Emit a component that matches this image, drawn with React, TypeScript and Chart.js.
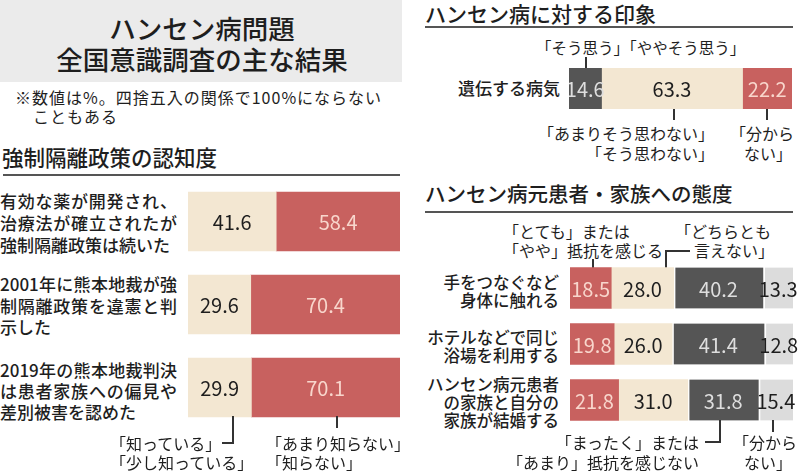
import React, { useEffect, useRef } from "react";
import Chart from "chart.js/auto";

// ---------- data ----------
const awarenessRows: string[][] = [
  ["有効な薬が開発され、", "治療法が確立されたが", "強制隔離政策は続いた"],
  ["2001年に熊本地裁が強", "制隔離政策を違憲と判", "示した"],
  ["2019年の熊本地裁判決", "は患者家族への偏見や", "差別被害を認めた"],
];
const awarenessKnown = [41.6, 29.6, 29.9];
const awarenessUnknown = [58.4, 70.4, 70.1];

const impressionRows = ["遺伝する病気"];
const impressionYes = [14.6];
const impressionNo = [63.3];
const impressionDontKnow = [22.2];

const attitudeRows: string[][] = [
  ["手をつなぐなど", "身体に触れる"],
  ["ホテルなどで同じ", "浴場を利用する"],
  ["ハンセン病元患者", "の家族と自分の", "家族が結婚する"],
];
const attitudeResist = [18.5, 19.8, 21.8];
const attitudeNeutral = [28.0, 26.0, 31.0];
const attitudeNoResist = [40.2, 41.4, 31.8];
const attitudeDontKnow = [13.3, 12.8, 15.4];

// ---------- styles ----------
const FONT = '"Noto Sans CJK JP", "Noto Sans", sans-serif';
const RED = "#c8615f";
const BEIGE = "#f3e7d2";
const DARK = "#555555";
const LIGHT = "#dcdcdc";
const TXT = "#1e1e1e";
const RED_TXT = "#f8d6cc";
const DARK_TXT = "#dedede";

const valueLabels = {
  id: "valueLabels",
  afterDatasetsDraw(chart: any) {
    const ctx = chart.ctx;
    chart.data.datasets.forEach((ds: any, i: number) => {
      const meta = chart.getDatasetMeta(i);
      meta.data.forEach((bar: any, j: number) => {
        const v = ds.data[j];
        const p = bar.getProps(["x", "y", "base"], true);
        const cx = (p.x + p.base) / 2;
        ctx.save();
        ctx.fillStyle = ds.labelColor;
        ctx.font = `400 20px ${FONT}`;
        ctx.textAlign = "center";
        ctx.textBaseline = "middle";
        ctx.fillText(v.toFixed(1), cx, p.y + 1);
        ctx.restore();
      });
    });
  },
};

type DS = {
  label: string;
  data: number[];
  color: string;
  labelColor: string;
  gap?: boolean;
};

function StackedBars(props: {
  left: number;
  top: number;
  width: number;
  height: number;
  labels: string[];
  series: DS[];
  thickness: number;
  padRight?: number;
}) {
  const ref = useRef<HTMLCanvasElement>(null);
  const pad = props.padRight ?? 0;
  useEffect(() => {
    const totals = props.labels.map((_, j) =>
      props.series.reduce((s, d) => s + d.data[j], 0)
    );
    const max = Math.max(...totals);
    const chart = new Chart(ref.current!, {
      type: "bar",
      data: {
        labels: props.labels,
        datasets: props.series.map((s) => ({
          label: s.label,
          data: s.data,
          backgroundColor: s.color,
          borderColor: "#ffffff",
          borderWidth: s.gap ? { left: 2, top: 0, right: 0, bottom: 0 } : 0,
          borderSkipped: false,
          barThickness: props.thickness,
          labelColor: s.labelColor,
        })) as any,
      },
      options: {
        indexAxis: "y",
        animation: false,
        responsive: false,
        maintainAspectRatio: false,
        layout: { padding: { left: 0, top: 0, bottom: 0, right: pad } },
        scales: {
          x: { stacked: true, display: false, min: 0, max },
          y: { stacked: true, display: false },
        },
        plugins: { legend: { display: false }, tooltip: { enabled: false } },
      },
      plugins: [valueLabels],
    });
    return () => chart.destroy();
  }, []);
  return (
    <canvas
      ref={ref}
      width={props.width + pad}
      height={props.height}
      style={{
        position: "absolute",
        left: props.left,
        top: props.top,
        width: props.width + pad,
        height: props.height,
        display: "block",
      }}
    />
  );
}

function T(props: {
  x: number;
  y: number;
  text: string;
  size?: number;
  weight?: number;
  align?: "left" | "right" | "center";
  ls?: number;
}) {
  const size = props.size ?? 16;
  const lh = Math.round(size * 1.4);
  const align = props.align ?? "left";
  const style: any = {
    position: "absolute",
    top: props.y - lh / 2,
    fontSize: size,
    lineHeight: lh + "px",
    fontWeight: props.weight ?? 400,
    whiteSpace: "nowrap",
    letterSpacing: props.ls ?? 0,
    color: TXT,
  };
  if (align === "left") style.left = props.x;
  else if (align === "right") {
    style.right = 800 - props.x;
    style.textAlign = "right";
  } else {
    style.left = props.x - 300;
    style.width = 600;
    style.textAlign = "center";
  }
  return <div style={style}>{props.text}</div>;
}

function Line(props: { x1: number; y1: number; x2: number; y2: number; w?: number; c?: string }) {
  const w = props.w ?? 1.3;
  const horizontal = props.y1 === props.y2;
  return (
    <div
      style={{
        position: "absolute",
        left: horizontal ? props.x1 : props.x1 - w / 2,
        top: horizontal ? props.y1 - w / 2 : props.y1,
        width: horizontal ? props.x2 - props.x1 : w,
        height: horizontal ? w : props.y2 - props.y1,
        background: props.c ?? "#333",
      }}
    />
  );
}

function JustBlock(props: { lines: string[]; y: number[]; width: number; size: number }) {
  const lh = Math.round(props.size * 1.4);
  return (
    <>
      {props.lines.map((l, i) => (
        <div
          key={i}
          style={{
            position: "absolute",
            left: 0,
            top: props.y[i] - lh / 2,
            width: props.width,
            fontSize: props.size,
            lineHeight: lh + "px",
            fontWeight: 500,
            whiteSpace: "nowrap",
            textAlign: "justify",
            textAlignLast: i < props.lines.length - 1 ? "justify" : "left",
            color: TXT,
          }}
        >
          {l}
        </div>
      ))}
    </>
  );
}

export default function App() {
  const awarenessLabelY = [
    [201, 223, 245],
    [284, 306, 327],
    [370, 391, 412],
  ];
  const attitudeLabelY = [
    [282, 300],
    [337, 355],
    [384, 402, 420],
  ];
  return (
    <div
      style={{
        position: "absolute",
        left: 0,
        top: 0,
        width: 800,
        height: 472,
        background: "#ffffff",
        overflow: "hidden",
        fontFamily: FONT,
        color: TXT,
      }}
    >
      {/* title box */}
      <div
        style={{ position: "absolute", left: 0, top: 0, width: 402, height: 82, background: "#ebebeb" }}
      />
      <T x={202} y={27} text="ハンセン病問題" size={26.5} weight={500} align="center" />
      <T x={202} y={58} text="全国意識調査の主な結果" size={26.5} weight={500} align="center" />
      <T x={15} y={97} text="※数値は%。四捨五入の関係で100%にならない" size={16} ls={1} />
      <T x={33} y={116} text="こともある" size={16} ls={1} />

      {/* awareness */}
      <T x={2} y={157} text="強制隔離政策の認知度" size={21.5} weight={500} />
      <Line x1={3} y1={175} x2={400} y2={175} w={1.5} c="#555" />
      {awarenessRows.map((lines, i) => (
        <JustBlock key={i} lines={lines} y={awarenessLabelY[i]} width={177} size={17} />
      ))}
      <StackedBars
        left={188}
        top={180}
        width={212}
        height={249}
        labels={awarenessRows.map((r) => r.join(""))}
        thickness={59}
        series={[
          { label: "知っている・少し知っている", data: awarenessKnown, color: BEIGE, labelColor: TXT },
          { label: "あまり知らない・知らない", data: awarenessUnknown, color: RED, labelColor: RED_TXT },
        ]}
      />
      <Line x1={233} y1={416} x2={233} y2={443} />
      <Line x1={222} y1={443} x2={233.6} y2={443} />
      <Line x1={337} y1={416} x2={337} y2={428} />
      <T x={110} y={443} text="「知っている」" size={16} />
      <T x={110} y={462} text="「少し知っている」" size={16} />
      <T x={266} y={443} text="「あまり知らない」" size={16} />
      <T x={266} y={462} text="「知らない」" size={16} />

      {/* impression */}
      <T x={425} y={13} text="ハンセン病に対する印象" size={21} weight={500} />
      <Line x1={425} y1={27} x2={793} y2={27} w={1.5} c="#555" />
      <T x={536} y={47} text="「そう思う」「ややそう思う」" size={15.5} />
      <Line x1={586} y1={57} x2={586} y2={68} />
      <T x={560} y={88} text={impressionRows[0]} size={17} weight={500} align="right" />
      <StackedBars
        left={569}
        top={68}
        width={223}
        height={41}
        labels={impressionRows}
        thickness={41}
        series={[
          { label: "そう思う・ややそう思う", data: impressionYes, color: DARK, labelColor: DARK_TXT },
          { label: "あまりそう思わない・そう思わない", data: impressionNo, color: BEIGE, labelColor: TXT },
          { label: "分からない", data: impressionDontKnow, color: RED, labelColor: RED_TXT },
        ]}
      />
      <Line x1={674} y1={109} x2={674} y2={120} />
      <Line x1={767} y1={109} x2={767} y2={120} />
      <T x={714} y={133} text="「あまりそう思わない」" size={16} align="right" />
      <T x={714} y={153} text="「そう思わない」" size={16} align="right" />
      <T x={730} y={133} text="「分から" size={16} />
      <T x={792} y={153} text="ない」" size={16} align="right" />

      {/* attitude */}
      <T x={425} y={193} text="ハンセン病元患者・家族への態度" size={20.5} weight={500} />
      <Line x1={425} y1={212} x2={793} y2={212} w={1.5} c="#555" />
      <T x={503} y={231} text="「とても」または" size={16} />
      <T x={503} y={250} text="「やや」抵抗を感じる" size={16} />
      <Line x1={593} y1={259} x2={593} y2={268} />
      <Line x1={666} y1={251} x2={666} y2={268} />
      <Line x1={665.4} y1={251} x2={690} y2={251} />
      <T x={675} y={231} text="「どちらとも" size={16} />
      <T x={774} y={250} text="言えない」" size={16} align="right" />
      {attitudeRows.map((lines, i) =>
        lines.map((l, k) => (
          <T key={i + "-" + k} x={559} y={attitudeLabelY[i][k]} text={l} size={16.5} weight={500} align="right" />
        ))
      )}
      <StackedBars
        left={570}
        top={260}
        width={223}
        height={168}
        padRight={7}
        labels={attitudeRows.map((r) => r.join(""))}
        thickness={41}
        series={[
          { label: "「とても」または「やや」抵抗を感じる", data: attitudeResist, color: RED, labelColor: RED_TXT },
          { label: "どちらとも言えない", data: attitudeNeutral, color: BEIGE, labelColor: TXT },
          { label: "「まったく」または「あまり」抵抗を感じない", data: attitudeNoResist, color: DARK, labelColor: DARK_TXT, gap: true },
          { label: "分からない", data: attitudeDontKnow, color: LIGHT, labelColor: TXT, gap: true },
        ]}
      />
      <Line x1={720} y1={420} x2={720} y2={442} />
      <Line x1={705} y1={442} x2={720.6} y2={442} />
      <Line x1={773} y1={420} x2={773} y2={432} />
      <T x={699} y={442} text="「まったく」または" size={16} align="right" />
      <T x={699} y={462} text="「あまり」抵抗を感じない" size={16} align="right" />
      <T x={733} y={442} text="「分から" size={16} />
      <T x={792} y={462} text="ない」" size={16} align="right" />
    </div>
  );
}
